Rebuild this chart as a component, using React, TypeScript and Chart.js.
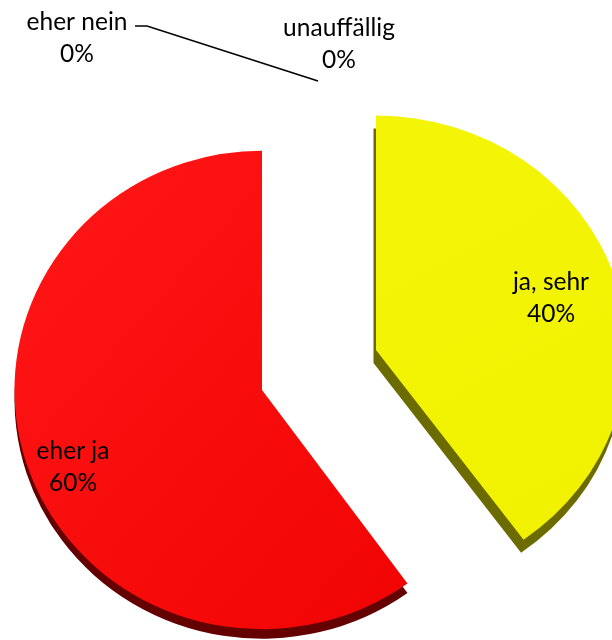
import React, { useEffect, useRef } from "react";
import { Chart, ArcElement, registerables } from "chart.js";

Chart.register(...registerables);

const categories = ["ja, sehr", "eher ja", "eher nein", "unauffällig"];
const values = [40, 60, 0, 0];

const BASE_RADIUS = 238;
const sliceApex = [[376, 350], [262, 390]];
const sliceStretch = [[1.055, 0.985], [1.04, 1.005]];
const depthColors = ["#6b6b00", "#640000"];
const depthShift = [[-2.5, 13], [0, 9.5]];
const labelAnchors = [[551, 282], [73, 451], [77, 22], [339, 28]];
const LINE_GAP = 32;

function placeSlice(ctx: any, el: any, i: number, dx = 0, dy = 0) {
  ctx.translate(sliceApex[i][0] + dx, sliceApex[i][1] + dy);
  ctx.scale(sliceStretch[i][0], sliceStretch[i][1]);
  ctx.translate(-el.x, -el.y);
}

const piePlugin = {
  id: "pie3d",
  beforeDatasetsDraw(chart: any) {
    const ctx = chart.ctx;
    const meta = chart.getDatasetMeta(0);
    meta.data.forEach((el: any, i: number) => {
      if (i > 1) {
        el.draw = () => {};
        return;
      }
      // extruded side of the slice
      const opts = Object.create(el.options, {
        backgroundColor: { value: depthColors[i] },
        borderWidth: { value: 0 },
      });
      const ghost = Object.create(el, { options: { value: opts } });
      ctx.save();
      placeSlice(ctx, el, i, depthShift[i][0], depthShift[i][1]);
      ArcElement.prototype.draw.call(ghost, ctx);
      ctx.restore();
      // top face, exploded out to its apex
      el.draw = function (c: any) {
        c.save();
        placeSlice(c, el, i);
        ArcElement.prototype.draw.call(el, c);
        c.restore();
      };
    });
  },
  afterDatasetsDraw(chart: any) {
    const ctx = chart.ctx;
    ctx.save();
    ctx.strokeStyle = "#000";
    ctx.lineWidth = 1.6;
    ctx.beginPath();
    ctx.moveTo(135, 26);
    ctx.lineTo(147, 26);
    ctx.lineTo(318, 81);
    ctx.stroke();
    ctx.fillStyle = "#000";
    ctx.font = "24.5px Lato";
    ctx.textAlign = "center";
    ctx.textBaseline = "middle";
    categories.forEach((c, i) => {
      const [x, y] = labelAnchors[i];
      ctx.fillText(c, x, y);
      ctx.fillText(`${values[i]}%`, x, y + LINE_GAP);
    });
    ctx.restore();
  },
};

export default function App() {
  const ref = useRef<HTMLCanvasElement>(null);
  useEffect(() => {
    const canvas = ref.current!;
    const c2d = canvas.getContext("2d")!;
    const redGrad = c2d.createLinearGradient(0, 200, 420, 560);
    redGrad.addColorStop(0, "#ff1616");
    redGrad.addColorStop(1, "#f10404");
    const yellowGrad = c2d.createLinearGradient(380, 120, 620, 540);
    yellowGrad.addColorStop(0, "#f4f406");
    yellowGrad.addColorStop(1, "#f0f000");
    const chart = new Chart(canvas, {
      type: "pie",
      data: {
        labels: categories,
        datasets: [
          {
            data: values,
            backgroundColor: [yellowGrad, redGrad, "#4f81bd", "#9bbb59"],
            borderWidth: 0,
            clip: false,
          } as any,
        ],
      },
      options: {
        animation: false,
        responsive: false,
        devicePixelRatio: 1,
        radius: BASE_RADIUS,
        events: [],
        plugins: { legend: { display: false }, tooltip: { enabled: false } },
      } as any,
      plugins: [piePlugin],
    });
    return () => chart.destroy();
  }, []);
  return (
    <div style={{ position: "fixed", inset: 0, overflow: "hidden", background: "#fff" }}>
      <canvas
        ref={ref}
        width={612}
        height={640}
        style={{ position: "absolute", left: 0, top: 0, width: 612, height: 640 }}
      />
    </div>
  );
}
